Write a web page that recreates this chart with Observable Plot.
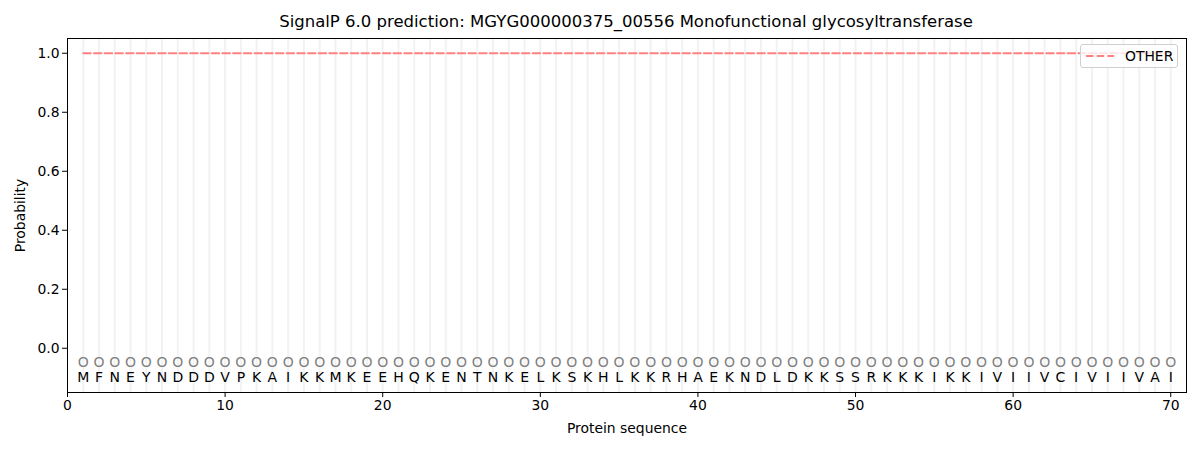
<!DOCTYPE html>
<html>
<head>
<meta charset="utf-8">
<script src="https://cdn.jsdelivr.net/npm/d3@7"></script>
<script src="https://cdn.jsdelivr.net/npm/@observablehq/plot@0.6"></script>
<style>
  body { margin: 0; background: #fff; font-family: "DejaVu Sans", sans-serif; }
  #wrap { position: relative; width: 1200px; height: 450px; }
  #title { height: 36px; box-sizing: border-box; padding-top: 10px; line-height: 24px;
           text-align: center; font-size: 16.5px; color: #000; padding-left: 52px; }
  #legend { position: absolute; left: 1080px; top: 44px; width: 98px; height: 24px; box-sizing: border-box;
            border: 1px solid #d0d0d0; border-radius: 3px; background: rgba(255,255,255,0.8);
            font-size: 13.9px; display: flex; align-items: center; }
  #legend span { margin-left: 10px; }
</style>
</head>
<body>
<div id="wrap">
  <div id="title">SignalP 6.0 prediction: MGYG000000375_00556 Monofunctional glycosyltransferase</div>
  <div id="chart"></div>
  <div id="legend">
    <svg width="30" height="10" style="margin-left:4px"><line x1="1" y1="5" x2="29" y2="5" stroke="#ff8080" stroke-width="2" stroke-dasharray="7.5,3.2"/></svg>
    <span>OTHER</span>
  </div>
</div>
<script>
// residues of the sequence, one per position
const residues = ["M","F","N","E","Y","N","D","D","D","V","P","K","A","I","K","K","M","K","E","E",
  "H","Q","K","E","N","T","N","K","E","L","K","S","K","H","L","K","K","R","H","A",
  "E","K","N","D","L","D","K","K","S","S","R","K","K","K","I","K","K","I","V","I",
  "I","V","C","I","V","I","I","V","A","I"]
// predicted label per position
const labels = ["O","O","O","O","O","O","O","O","O","O","O","O","O","O","O","O","O","O","O","O",
  "O","O","O","O","O","O","O","O","O","O","O","O","O","O","O","O","O","O","O","O",
  "O","O","O","O","O","O","O","O","O","O","O","O","O","O","O","O","O","O","O","O",
  "O","O","O","O","O","O","O","O","O","O"]
// probability of OTHER
const otherProb = [1,1,1,1,1,1,1,1,1,1,1,1,1,1,1,1,1,1,1,1,
  1,1,1,1,1,1,1,1,1,1,1,1,1,1,1,1,1,1,1,1,
  1,1,1,1,1,1,1,1,1,1,1,1,1,1,1,1,1,1,1,1,
  1,1,1,1,1,1,1,1,1,1]
const xTicks = [0, 10, 20, 30, 40, 50, 60, 70]
const yTicks = [0, 0.2, 0.4, 0.6, 0.8, 1.0]
const labelRow = -0.05
const residueRow = -0.1

const data = residues.map((r, i) => ({pos: i + 1, residue: r, label: labels[i], other: otherProb[i]}))

const chart = Plot.plot({
  width: 1200,
  height: 414,
  marginTop: 2,
  marginBottom: 58,
  marginLeft: 67,
  marginRight: 14,
  style: {fontFamily: "DejaVu Sans, sans-serif", fontSize: "13.9px", color: "#000", background: "#fff"},
  x: {domain: [0, 71]},
  y: {domain: [-0.15, 1.05]},
  marks: [
    Plot.ruleX(data, {x: "pos", stroke: "#f2f2f2", strokeWidth: 2}),
    Plot.lineY(data, {x: "pos", y: "other", stroke: "#ff8080", strokeWidth: 2, strokeDasharray: "7.5,3.2"}),
    Plot.text(data, {x: "pos", y: () => labelRow, text: "label", fill: "#808080", fontSize: 14}),
    Plot.text(data, {x: "pos", y: () => residueRow, text: "residue", fill: "#000", fontSize: 14}),
    Plot.frame({stroke: "#000"}),
    Plot.axisX({ticks: xTicks, tickSize: 5, tickPadding: 3, label: "Protein sequence", labelAnchor: "center", labelOffset: 40, labelArrow: "none"}),
    Plot.axisY({ticks: yTicks, tickFormat: d3.format(".1f"), tickSize: 5, tickPadding: 3, label: "Probability", labelAnchor: "center", labelOffset: 52, labelArrow: "none"})
  ]
})
d3.select('#chart').append(() => chart)
</script>
</body>
</html>
